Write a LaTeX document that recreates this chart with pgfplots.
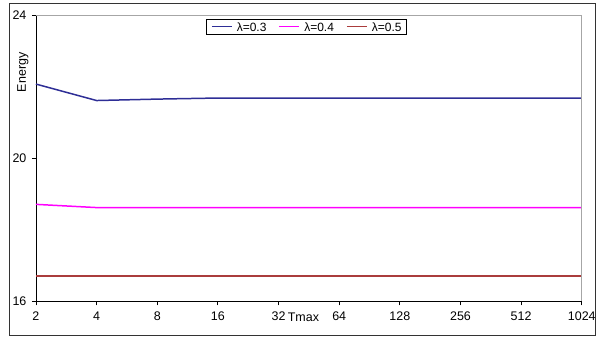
\documentclass[border=0pt]{standalone}
\usepackage{fontspec}
\setmainfont{Liberation Sans}
\usepackage{pgfplots}
\pgfplotsset{compat=1.18}
\definecolor{cBlue}{RGB}{46,46,150}
\definecolor{cMag}{RGB}{255,0,255}
\definecolor{cRed}{RGB}{170,60,60}
\newcommand{\legline}[1]{{\color{#1}\rule[0.3em]{20pt}{1.4pt}}}
\begin{document}
\begin{tikzpicture}
\begin{axis}[
  scale only axis,
  width=547pt, height=287pt,
  xmode=log, log basis x=2,
  xmin=2, xmax=1024, ymin=16, ymax=24,
  xtick={2,4,8,16,32,64,128,256,512,1024},
  xticklabels={2,4,8,16,32,64,128,256,512,1024},
  ytick={16,20,24},
  axis lines*=left,
  axis line style={black, line width=0.8pt},
  tick style={black, line width=0.8pt},
  tick align=outside,
  major tick length=4pt,
  /pgf/number format/assume math mode=true,
  ticklabel style={font=\fontsize{12.5}{14}\selectfont},
  xticklabel style={yshift=-3pt},
  yticklabel style={xshift=-2pt},
  xlabel={Tmax},
  xlabel style={at={(axis description cs:0.49,0)}, anchor=north, yshift=-8pt, font=\fontsize{12.5}{14}\selectfont},
  ylabel={Energy},
  ylabel style={at={(axis description cs:0,0.80)}, anchor=center, yshift=13pt, font=\fontsize{12.5}{14}\selectfont},
  clip=false,
]
\addplot[draw=cBlue, line width=1.5pt] coordinates {(2,22.07) (4,21.61) (8,21.65) (16,21.68) (32,21.68) (64,21.68) (128,21.68) (256,21.68) (512,21.68) (1024,21.68)};
\addplot[draw=cMag, line width=1.5pt] coordinates {(2,18.71) (4,18.62) (8,18.62) (16,18.62) (32,18.62) (64,18.62) (128,18.62) (256,18.62) (512,18.62) (1024,18.62)};
\addplot[draw=cRed, line width=1.6pt] coordinates {(2,16.71) (4,16.71) (8,16.71) (16,16.71) (32,16.71) (64,16.71) (128,16.71) (256,16.71) (512,16.71) (1024,16.71)};
\draw[gray!70, line width=0.8pt] (rel axis cs:0,1) -- (rel axis cs:1,1) -- (rel axis cs:1,0);
\node[draw=black, line width=0.8pt, fill=white, anchor=north, inner xsep=5pt, inner ysep=3pt,
  font=\fontsize{12}{14}\selectfont] at ([yshift=-4pt]rel axis cs:0.496,1)
  {\legline{cBlue}\hspace{5pt}λ=0.3\hspace{13pt}\legline{cMag}\hspace{5pt}λ=0.4\hspace{13pt}\legline{cRed}\hspace{5pt}λ=0.5};
\draw[black!80, line width=0.8pt] ([xshift=-27pt,yshift=-34pt]rel axis cs:0,0) rectangle ([xshift=14pt,yshift=12pt]rel axis cs:1,1);
\path ([xshift=-36pt,yshift=-38pt]rel axis cs:0,0) rectangle ([xshift=16pt,yshift=15pt]rel axis cs:1,1);
\end{axis}
\end{tikzpicture}
\end{document}
